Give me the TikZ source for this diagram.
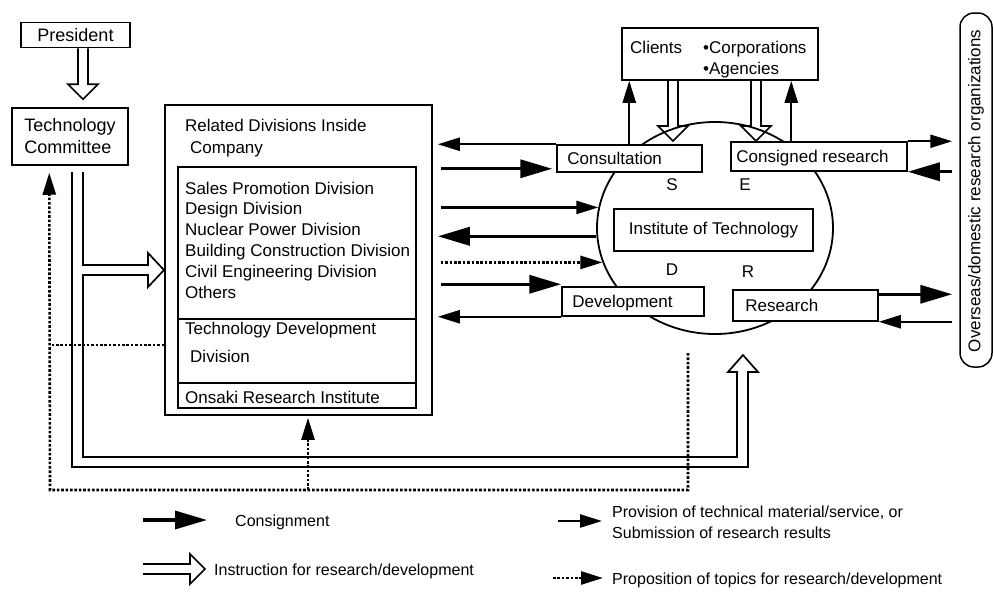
\documentclass[tikz,border=0pt]{standalone}
\usepackage{fontspec}
\setmainfont{Liberation Sans}
\usetikzlibrary{arrows.meta,calc,shapes.geometric}
\newcommand\mainfs{\fontsize{17}{21}\selectfont}
\newcommand\bigfs{\fontsize{18}{22}\selectfont}
\newcommand\legfs{\fontsize{16}{20}\selectfont}
\newcommand\instrarrow[2]{%
  \path ($(#2)!15pt!(#1)$) coordinate (ib);
  \draw[instr] ($(#1)!5pt!90:(#2)$) -- ($(ib)!5pt!90:(#2)$) -- ($(ib)!15pt!90:(#2)$) -- (#2)
     -- ($(ib)!15pt!-90:(#2)$) -- ($(ib)!5pt!-90:(#2)$) -- ($(#1)!5pt!-90:(#2)$);}
\tikzset{
  box/.style={draw, line width=1.5pt, fill=white, inner sep=0pt},
  txt/.style={inner sep=0pt, anchor=base west, font=\mainfs},
  consign/.style={line width=3.4pt, -{Triangle[length=32pt,width=18pt]}},
  provide/.style={line width=2.4pt, -{Triangle[length=22pt,width=13pt]}},
  propose/.style={line width=2.6pt, dash pattern=on 2.6pt off 1.8pt, -{Triangle[length=22pt,width=13pt]}},
  propline/.style={line width=2.6pt, dash pattern=on 2.6pt off 1.8pt},
  instr/.style={line width=1.7pt, line join=miter},
}
\begin{document}
\begin{tikzpicture}[x=1pt,y=-1pt]
\useasboundingbox (0,0) rectangle (993,592);
\fill[white] (0,0) rectangle (993,592);

% institute circle
\node[draw, ellipse, line width=1.8pt, minimum width=236pt, minimum height=212pt, inner sep=0pt] (circ) at (715,228) {};

% left side
\node[box, minimum width=109pt, minimum height=25pt, font=\bigfs] (pres) at (75.5,35) {President};
\node[box, minimum width=116pt, minimum height=57pt, align=left, font=\bigfs] (tc) at (70,136.5) {Technology\\Committee};

\node[box, minimum width=267pt, minimum height=310pt] (rel) at (298.5,260) {};
\node[box, minimum width=238pt, minimum height=152pt] (divs) at (297,243) {};
\node[box, minimum width=238pt, minimum height=64pt] (tdd) at (297,351) {};
\node[box, minimum width=238pt, minimum height=25pt] (ori) at (297,395.5) {};
\node[txt] (t1) at (185,131) {Related Divisions Inside};
\node[txt] (t2) at (190,153) {Company};
\foreach \t [count=\i] in {Sales Promotion Division, Design Division, Nuclear Power Division,
  Building Construction Division, Civil Engineering Division, Others}
  \node[txt] (d\i) at (185,{173.2+20.8*\i}) {\t};
\node[txt] (tdd1) at (185,334) {Technology Development};
\node[txt] (tdd2) at (190,362) {Division};
\node[txt] (ori1) at (185,403) {Onsaki Research Institute};

% institute parts
\node[box, minimum width=145pt, minimum height=27pt] (cons) at (629.5,158.5) {};
\node[txt] (consT) at ($(cons.west)+(11,6)$) {Consultation};
\node[box, minimum width=176pt, minimum height=29pt] (consr) at (819,156.5) {};
\node[txt] (consrT) at ($(consr.west)+(6,6)$) {Consigned research};
\node[box, minimum width=142pt, minimum height=29pt] (dev) at (633,301.5) {};
\node[txt] (devT) at ($(dev.west)+(11,6)$) {Development};
\node[box, minimum width=145pt, minimum height=31pt] (res) at (805.5,305.5) {};
\node[txt] (resT) at ($(res.west)+(13,6)$) {Research};
\node[box, minimum width=199pt, minimum height=42pt, font=\mainfs] (inst) at (713.5,230) {Institute of Technology};
\node[inner sep=0pt, font=\mainfs] (lS) at (672,185) {S};
\node[inner sep=0pt, font=\mainfs] (lE) at (745,185) {E};
\node[inner sep=0pt, font=\mainfs] (lD) at (672,270) {D};
\node[inner sep=0pt, font=\mainfs] (lR) at (748,272) {R};

% clients
\node[box, minimum width=196pt, minimum height=52pt] (clients) at (720,54) {};
\node[txt] (clT) at (630,53) {Clients};
\node[txt] (clC) at (703,53) {•Corporations};
\node[txt] (clA) at (703,74) {•Agencies};

% overseas
\node[box, rounded corners=14pt, minimum width=32pt, minimum height=354pt] (ov) at (976,190) {};
\node[inner sep=0pt, rotate=90, font=\mainfs] (ovT) at (976,191) {Overseas/domestic research organizations};

% helper coordinates
\coordinate (rx) at ([xshift=5pt]rel.east);
\coordinate (rxs) at ([xshift=8pt]rel.east);
\coordinate (ovl) at ([xshift=-7pt]ov.west);
\coordinate (c2) at ($(cons.south west)+(-4,-4)$);
\coordinate (d6) at ($(dev.north west)+(0,-2)$);
\coordinate (r1) at ($(res.north east)+(0,5)$);

% arrows between divisions and institute
\draw[provide] (cons.north west) -- (rx |- cons.north west);
\draw[consign] (rxs |- c2) -- (c2);
\draw[provide] (rxs |- circ.170) -- (circ.170);
\draw[consign] (circ.184) -- (rx |- circ.184);
\draw[propose] (rxs |- circ.197) -- (circ.197);
\draw[consign] (rxs |- d6) -- (d6);
\draw[provide] (dev.south west) -- (rx |- dev.south west);

% arrows with overseas organizations
\draw[provide] (consr.north east) -- (ovl |- consr.north east);
\draw[consign] (ovl |- consr.south east) -- (consr.south east);
\draw[consign] (r1) -- (ovl |- r1);
\draw[provide] (ovl |- res.south east) -- (res.south east);

% arrows with clients
\coordinate (u1) at ($(cons.north west)+(73,0)$);
\coordinate (u2) at ($(consr.north west)+(61,0)$);
\draw[provide] (u1) -- (u1 |- clients.south);
\draw[provide] (u2) -- (u2 |- clients.south);
\coordinate (k1) at (673,80); \coordinate (k1t) at (673,141);
\coordinate (k2) at (756,80); \coordinate (k2t) at (756,141);
\instrarrow{k1}{k1t}
\instrarrow{k2}{k2t}

% president to committee
\coordinate (p1) at ($(pres.south)+(7.5,0)$);
\coordinate (p1t) at ($(tc.north)+(13,-8)$);
\instrarrow{p1}{p1t}

% committee instructions
\draw[instr] (72,172) -- (72,467) -- (748,467) -- (748,372) -- (758,372) -- (743,355)
  -- (728,372) -- (737,372) -- (737,457) -- (83,457) -- (83,275) -- (148,275) -- (148,287)
  -- (164,270) -- (148,253) -- (148,265) -- (83,265) -- (83,172);

% propositions
\draw[propose] (688,353) -- (688,490) -- (50,490) -- ($(tc.south west)+(38,7)$);
\draw[propose] (308,490) -- ($(rel.south)+(9.5,2)$);
\draw[propline] (rel.west |- 0,345) -- (50,345);

% legend
\coordinate (lc1) at (143,520); \coordinate (lc2) at (207,520);
\draw[consign] (lc1) -- (lc2);
\node[txt, font=\legfs] (lcT) at (235,526) {Consignment};
\coordinate (li1) at (143,569); \coordinate (li2) at (205,569);
\instrarrow{li1}{li2}
\node[txt, font=\legfs] (liT) at (214,575) {Instruction for research/development};
\coordinate (lp1) at (558,521); \coordinate (lp2) at (602,521);
\draw[provide] (lp1) -- (lp2);
\node[txt, font=\legfs] (lpT1) at (612,517) {Provision of technical material/service, or};
\node[txt, font=\legfs] (lpT2) at (612,538) {Submission of research results};
\coordinate (lq1) at (553,578); \coordinate (lq2) at (603,578);
\draw[propose] (lq1) -- (lq2);
\node[txt, font=\legfs] (lqT) at (612,584) {Proposition of topics for research/development};
\end{tikzpicture}
\end{document}
